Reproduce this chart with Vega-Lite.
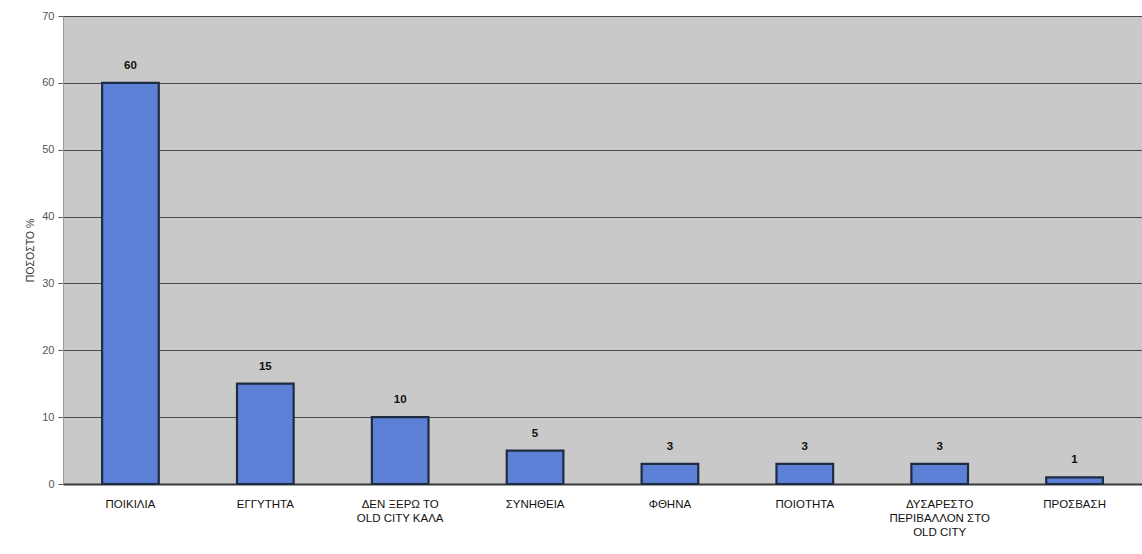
{
  "$schema": "https://vega.github.io/schema/vega-lite/v6.json",
  "width": 1079,
  "height": 468,
  "autosize": {"type": "none"},
  "padding": {"left": 63, "top": 16, "right": 0, "bottom": 70},
  "background": "white",
  "config": {
    "font": "Liberation Sans",
    "view": {"fill": "#c9c9c9", "stroke": "#bdbdbd", "strokeWidth": 1}
  },
  "data": {
    "values": [
      {"answer": "ΠΟΙΚΙΛΙΑ", "pct": 60},
      {"answer": "ΕΓΓΥΤΗΤΑ", "pct": 15},
      {"answer": "ΔΕΝ ΞΕΡΩ ΤΟ\nOLD CITY ΚΑΛΑ", "pct": 10},
      {"answer": "ΣΥΝΗΘΕΙΑ", "pct": 5},
      {"answer": "ΦΘΗΝΑ", "pct": 3},
      {"answer": "ΠΟΙΟΤΗΤΑ", "pct": 3},
      {"answer": "ΔΥΣΑΡΕΣΤΟ\nΠΕΡΙΒΑΛΛΟΝ ΣΤΟ\nOLD CITY", "pct": 3},
      {"answer": "ΠΡΟΣΒΑΣΗ", "pct": 1}
    ]
  },
  "encoding": {
    "x": {
      "field": "answer",
      "type": "nominal",
      "sort": null,
      "scale": {"paddingInner": 0.58, "paddingOuter": 0.29},
      "axis": {
        "title": null,
        "labelAngle": 0,
        "labelExpr": "split(datum.value, '\\n')",
        "labelFont": "Liberation Sans",
        "labelFontSize": 11.5,
        "labelColor": "#111111",
        "labelLineHeight": 14,
        "labelPadding": 14,
        "labelBaseline": "top",
        "ticks": false,
        "domainColor": "#3a3a3a",
        "domainWidth": 2
      }
    },
    "y": {
      "field": "pct",
      "type": "quantitative",
      "scale": {"domain": [0, 70], "nice": false},
      "axis": {
        "title": "ΠΟΣΟΣΤΟ %",
        "titleFont": "Liberation Sans",
        "titleFontSize": 10.5,
        "titleFontWeight": "normal",
        "titleColor": "#333333",
        "titlePadding": 6,
        "values": [0, 10, 20, 30, 40, 50, 60, 70],
        "labelFont": "Liberation Sans",
        "labelFontSize": 11,
        "labelColor": "#555555",
        "labelPadding": 4,
        "tickColor": "#555555",
        "tickSize": 5,
        "domainColor": "#9a9a9a",
        "grid": true,
        "gridColor": "#4a4a4a",
        "gridWidth": 1
      }
    }
  },
  "layer": [
    {
      "mark": {"type": "bar", "fill": "#5b80d6", "stroke": "#1f2b40", "strokeWidth": 2.2}
    },
    {
      "mark": {"type": "text", "baseline": "bottom", "dy": -12, "fontSize": 11.5, "fontWeight": "bold", "color": "#111111"},
      "encoding": {"text": {"field": "pct", "type": "quantitative"}}
    }
  ]
}
